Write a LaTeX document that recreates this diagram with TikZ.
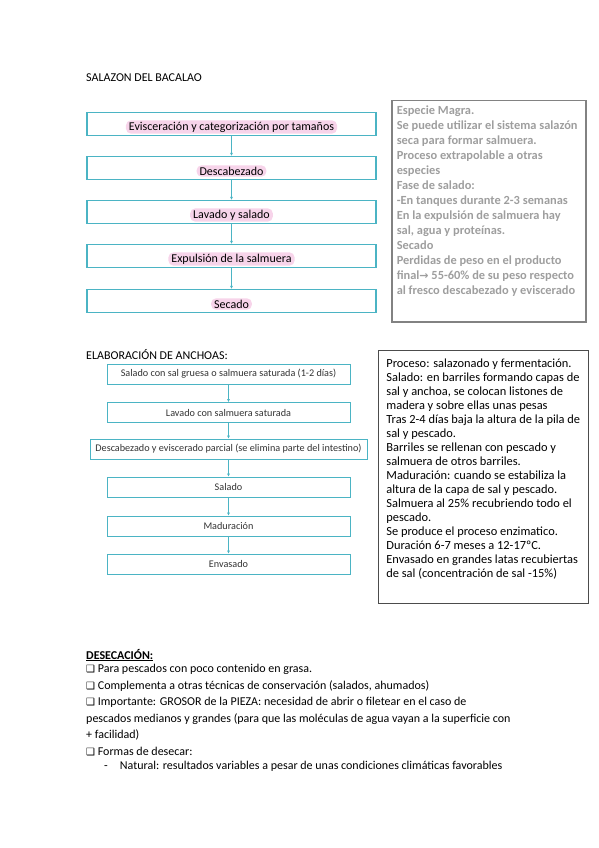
\documentclass[tikz,border=0pt]{standalone}
\usepackage{fontspec}
\setmainfont{Carlito}
\newfontfamily\symfont{DejaVu Sans}
\usetikzlibrary{positioning,arrows.meta}
\definecolor{flowteal}{RGB}{75,180,196}
\definecolor{hlpink}{RGB}{247,212,234}
\definecolor{notegray}{RGB}{158,158,158}
\definecolor{noteframe}{RGB}{130,130,130}
\newcommand{\chk}{{\symfont\fontsize{10}{10}\selectfont ❑}\ }

\begin{document}
\begin{tikzpicture}[x=1pt,y=-1pt,
  heading/.style={anchor=base west, inner sep=0pt, font=\fontsize{12}{14}\selectfont},
  stepbox/.style={draw=flowteal, line width=1.1pt, minimum width=289pt, minimum height=23pt, inner sep=0pt},
  hl/.style={fill=hlpink, rounded corners=5pt, inner xsep=3pt, inner ysep=1.5pt, font=\fontsize{12}{13}\selectfont},
  smallbox/.style={draw=flowteal, line width=0.8pt, minimum width=243pt, minimum height=20pt, inner sep=0pt, font=\fontsize{10.2}{11}\selectfont, text=black!80},
  flow/.style={-{Latex[length=3pt,width=3pt]}, draw=flowteal, line width=0.9pt},
  note/.style={anchor=north west, inner sep=0pt, align=left},
]
  \useasboundingbox (0,0) rectangle (599,848);

  % Salazon del bacalao
  \node[heading] (tit1) at (86,82) {SALAZON DEL BACALAO};

  \node[stepbox] (b1) at (231.5,124) {};
  \node[stepbox] (b2) at (231.5,168) {};
  \node[stepbox] (b3) at (231.5,212) {};
  \node[stepbox] (b4) at (231.5,256) {};
  \node[stepbox] (b5) at (231.5,301) {};

  \node[hl] (t1) at ([yshift=-3]b1.center) {Evisceración y categorización por tamaños};
  \node[hl] (t2) at ([yshift=-3]b2.center) {Descabezado};
  \node[hl] (t3) at ([yshift=-3]b3.center) {Lavado y salado};
  \node[hl] (t4) at ([yshift=-3]b4.center) {Expulsión de la salmuera};
  \node[hl] (t5) at ([yshift=-3]b5.center) {Secado};

  \foreach \a/\b in {b1/b2,b2/b3,b3/b4,b4/b5}
    \draw[flow] (\a.south) -- (\b.north);

  \node[note, draw=noteframe, line width=1.5pt, inner sep=5pt, text=notegray,
        font=\fontsize{12.4}{15}\bfseries\selectfont] (nota1) at (391,100) {%
    \begin{minipage}[t][211pt][t]{184pt}\raggedright
    Especie Magra.\\
    Se puede utilizar el sistema salazón\\
    seca para formar salmuera.\\
    Proceso extrapolable a otras\\
    especies\\
    Fase de salado:\\
    -En tanques durante 2-3 semanas\\
    En la expulsión de salmuera hay\\
    sal, agua y proteínas.\\
    Secado\\
    Perdidas de peso en el producto\\
    final{\symfont\fontsize{11}{11}\bfseries\selectfont →} 55-60\% de su peso respecto\\
    al fresco descabezado y eviscerado
    \end{minipage}};

  % Elaboracion de anchoas
  \node[heading] (tit2) at (86,359) {ELABORACIÓN DE ANCHOAS:};

  \node[smallbox] (a1) at (228.5,374) {Salado con sal gruesa o salmuera saturada (1-2 días)};
  \node[smallbox] (a2) at (228.5,412.5) {Lavado con salmuera saturada};
  \node[smallbox, minimum width=277pt] (a3) at (228.5,449) {Descabezado y eviscerado parcial (se elimina parte del intestino)};
  \node[smallbox] (a4) at (228.5,487) {Salado};
  \node[smallbox] (a5) at (228.5,526) {Maduración};
  \node[smallbox] (a6) at (228.5,564) {Envasado};

  \foreach \a/\b in {a1/a2,a2/a3,a3/a4,a4/a5,a5/a6}
    \draw[flow, line width=0.7pt] (\a.south) -- (\b.north);

  \node[note, draw=black!70, line width=0.8pt, inner sep=8pt,
        font=\fontsize{12.4}{14}\selectfont] (nota2) at (378,350) {%
    \begin{minipage}[t][237pt][t]{194pt}\raggedright
    Proceso: salazonado y fermentación.\\
    Salado: en barriles formando capas de\\
    sal y anchoa, se colocan listones de\\
    madera y sobre ellas unas pesas\\
    Tras 2-4 días baja la altura de la pila de\\
    sal y pescado.\\
    Barriles se rellenan con pescado y\\
    salmuera de otros barriles.\\
    Maduración: cuando se estabiliza la\\
    altura de la capa de sal y pescado.\\
    Salmuera al 25\% recubriendo todo el\\
    pescado.\\
    Se produce el proceso enzimatico.\\
    Duración 6-7 meses a 12-17ºC.\\
    Envasado en grandes latas recubiertas\\
    de sal (concentración de sal -15\%)
    \end{minipage}};

  % Desecacion
  \node[heading, font=\fontsize{12}{14}\bfseries\selectfont] (tit3) at (86,659) {\underline{DESECACIÓN:}};
  \node[note, anchor=north west, font=\fontsize{12}{16.5}\selectfont] (lista) at (86,664) {%
    \chk Para pescados con poco contenido en grasa.\\
    \chk Complementa a otras técnicas de conservación (salados, ahumados)\\
    \chk Importante: GROSOR de la PIEZA: necesidad de abrir o filetear en el caso de\\
    pescados medianos y grandes (para que las moléculas de agua vayan a la superficie con\\
    + facilidad)\\
    \chk Formas de desecar:\\[-2pt]
    \hspace*{18pt}-\hspace*{12pt}Natural: resultados variables a pesar de unas condiciones climáticas favorables};
\end{tikzpicture}
\end{document}
